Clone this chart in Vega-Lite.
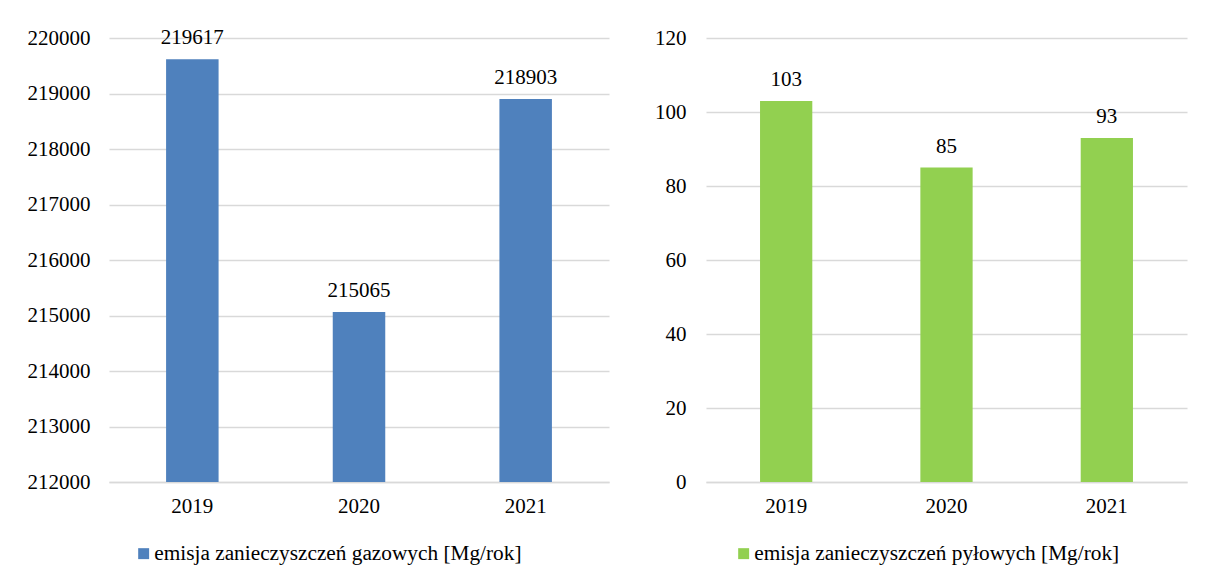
{
  "$schema": "https://vega.github.io/schema/vega-lite/v6.json",
  "padding": {"left": 27, "top": 27, "right": 10, "bottom": 10},
  "background": "white",
  "config": {
    "view": {"stroke": null},
    "font": "Liberation Serif",
    "axis": {
      "labelFont": "Liberation Serif",
      "labelFontSize": 21,
      "labelColor": "#000000",
      "ticks": false,
      "title": null,
      "gridColor": "#d9d9d9",
      "gridWidth": 1.5,
      "domainColor": "#d9d9d9",
      "domainWidth": 1.5
    },
    "legend": {
      "labelFont": "Liberation Serif",
      "labelFontSize": 21.3,
      "labelColor": "#000000",
      "labelLimit": 0,
      "symbolType": "square",
      "symbolSize": 120,
      "symbolStrokeWidth": 0,
      "labelOffset": 0,
      "title": null
    },
    "text": {"font": "Liberation Serif"}
  },
  "spacing": 45,
  "hconcat": [
    {
      "width": 500,
      "height": 444,
      "data": {"values": [
        {"rok": "2019", "wartosc": 219617, "seria": "emisja zanieczyszczeń gazowych [Mg/rok]"},
        {"rok": "2020", "wartosc": 215065, "seria": "emisja zanieczyszczeń gazowych [Mg/rok]"},
        {"rok": "2021", "wartosc": 218903, "seria": "emisja zanieczyszczeń gazowych [Mg/rok]"}
      ]},
      "encoding": {
        "x": {"field": "rok", "type": "nominal", "scale": {"paddingInner": 0.685, "paddingOuter": 0.3425},
              "axis": {"labelAngle": 0, "labelPadding": 13, "grid": false}},
        "y": {"field": "wartosc", "type": "quantitative",
              "scale": {"domain": [212000, 220000], "zero": false, "nice": false},
              "axis": {"values": [212000, 213000, 214000, 215000, 216000, 217000, 218000, 219000, 220000], "domain": false, "labelPadding": 19, "format": "d"}}
      },
      "layer": [
        {
          "mark": {"type": "bar", "clip": true},
          "encoding": {
            "color": {"field": "seria", "type": "nominal",
                      "scale": {"range": ["#4f81bd"]},
                      "legend": {"orient": "none", "legendX": 24, "legendY": 505, "direction": "horizontal"}}
          }
        },
        {
          "mark": {"type": "text", "dy": -15, "baseline": "alphabetic", "align": "center", "fontSize": 21, "color": "#000000"},
          "encoding": {"text": {"field": "wartosc", "type": "quantitative", "format": "d"}}
        }
      ]
    },
    {
      "width": 481,
      "height": 444,
      "data": {"values": [
        {"rok": "2019", "wartosc": 103, "seria": "emisja zanieczyszczeń pyłowych [Mg/rok]"},
        {"rok": "2020", "wartosc": 85, "seria": "emisja zanieczyszczeń pyłowych [Mg/rok]"},
        {"rok": "2021", "wartosc": 93, "seria": "emisja zanieczyszczeń pyłowych [Mg/rok]"}
      ]},
      "encoding": {
        "x": {"field": "rok", "type": "nominal", "scale": {"paddingInner": 0.674, "paddingOuter": 0.337},
              "axis": {"labelAngle": 0, "labelPadding": 13, "grid": false}},
        "y": {"field": "wartosc", "type": "quantitative",
              "scale": {"domain": [0, 120], "nice": false},
              "axis": {"values": [0, 20, 40, 60, 80, 100, 120], "domain": false, "labelPadding": 20}}
      },
      "layer": [
        {
          "mark": {"type": "bar"},
          "encoding": {
            "color": {"field": "seria", "type": "nominal",
                      "scale": {"range": ["#92d050"]},
                      "legend": {"orient": "none", "legendX": 27, "legendY": 505, "direction": "horizontal"}}
          }
        },
        {
          "mark": {"type": "text", "dy": -15, "baseline": "alphabetic", "align": "center", "fontSize": 21, "color": "#000000"},
          "encoding": {"text": {"field": "wartosc", "type": "quantitative"}}
        }
      ]
    }
  ],
  "resolve": {"scale": {"color": "independent", "x": "independent", "y": "independent"}, "legend": {"color": "independent"}}
}
